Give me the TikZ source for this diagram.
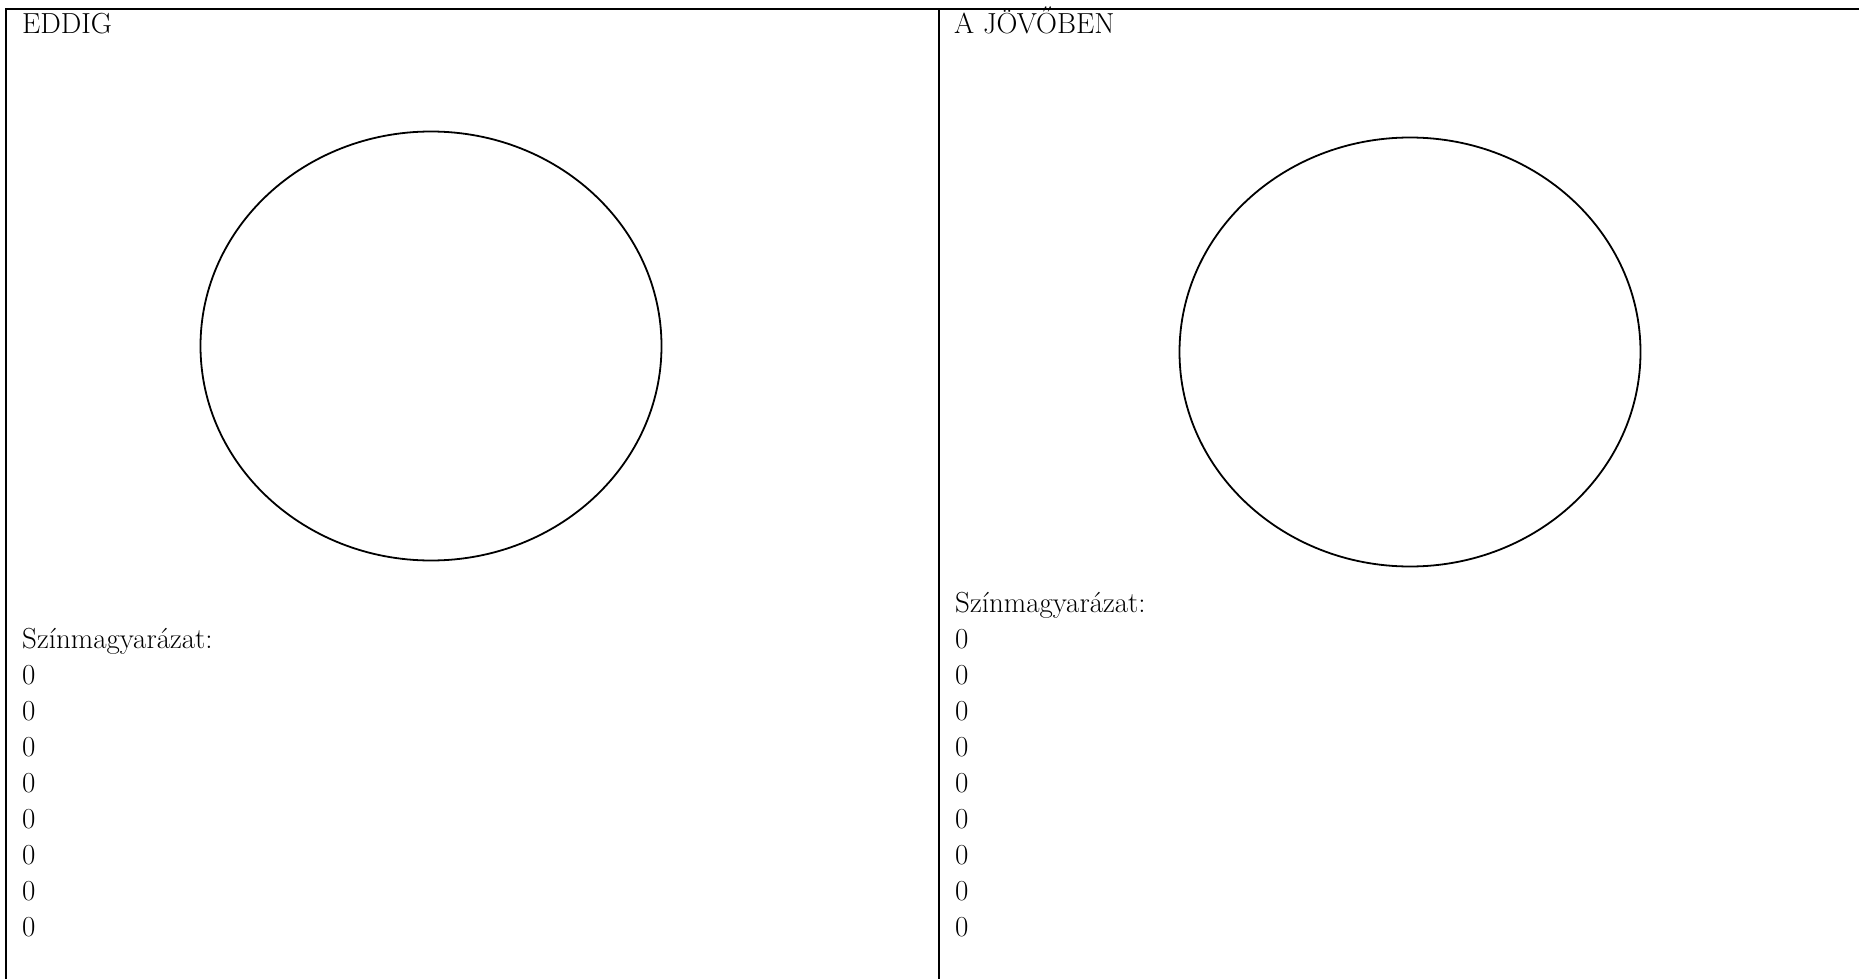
\documentclass[tikz,border=0pt]{standalone}
\usepackage{fontspec}
\usetikzlibrary{positioning}
\usetikzlibrary{shapes.geometric}

\begin{document}
\begin{tikzpicture}[
    x=1pt,
    y=-1pt,
    rule/.style={
        draw=black,
        line width=2.6pt
    },
    label/.style={
        anchor=base west,
        inner sep=0pt,
        font=\fontsize{29}{34}\selectfont
    },
    blob/.style={
        ellipse,
        draw=black,
        line width=1.8pt,
        minimum width=461pt,
        minimum height=429pt,
        inner sep=0pt
    }
]
\useasboundingbox (0,0) rectangle (1859,979);

% Table rules
\draw[rule] (5,9) -- (1859,9);
\draw[rule] (6,9) -- (6,979);
\draw[rule] (939,9) -- (939,979);

% Left column
\node[label] (eddig) at (22,34) {EDDIG};
\node[blob] (korL) at (431,346) {};
\node[label] (magyL) at (22,648) {Színmagyarázat:};
\node[label] (l1) at (22,684) {0};
\node[label] (l2) at (22,720) {0};
\node[label] (l3) at (22,756) {0};
\node[label] (l4) at (22,792) {0};
\node[label] (l5) at (22,828) {0};
\node[label] (l6) at (22,864) {0};
\node[label] (l7) at (22,900) {0};
\node[label] (l8) at (22,936) {0};

% Right column
\node[label] (jovo) at (954,34) {A JÖVŐBEN};
\node[blob] (korR) at (1410,352) {};
\node[label] (magyR) at (955,612) {Színmagyarázat:};
\node[label] (r1) at (955,648) {0};
\node[label] (r2) at (955,684) {0};
\node[label] (r3) at (955,720) {0};
\node[label] (r4) at (955,756) {0};
\node[label] (r5) at (955,792) {0};
\node[label] (r6) at (955,828) {0};
\node[label] (r7) at (955,864) {0};
\node[label] (r8) at (955,900) {0};
\node[label] (r9) at (955,936) {0};

\end{tikzpicture}
\end{document}
